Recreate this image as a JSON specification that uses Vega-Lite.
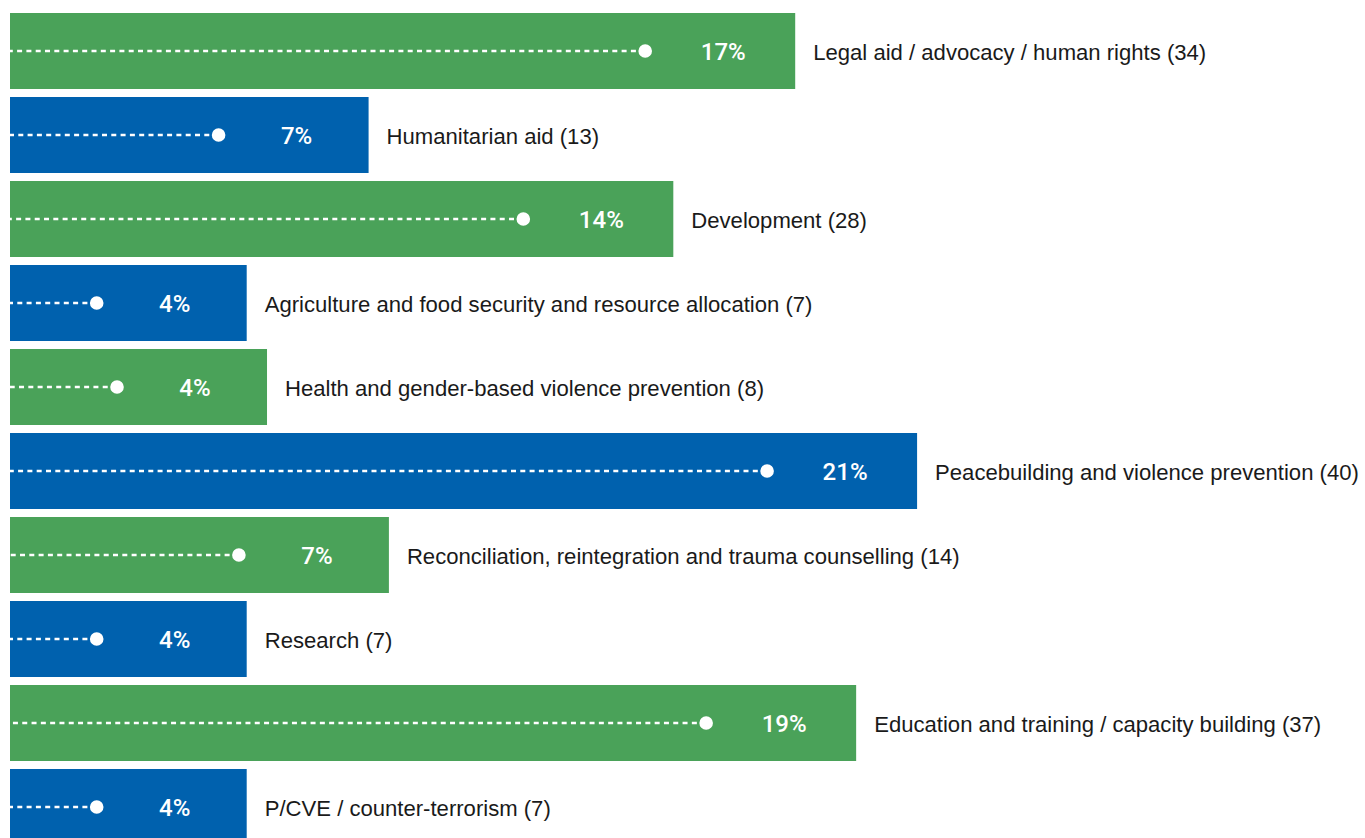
{
  "$schema": "https://vega.github.io/schema/vega-lite/v6.json",
  "width": 1365,
  "height": 838,
  "padding": 0,
  "autosize": {"type": "none"},
  "background": "white",
  "config": {"view": {"stroke": null}},
  "data": {
    "values": [
      {"category": "Legal aid / advocacy / human rights (34)", "count": 34, "pct": "17%"},
      {"category": "Humanitarian aid (13)", "count": 13, "pct": "7%"},
      {"category": "Development (28)", "count": 28, "pct": "14%"},
      {"category": "Agriculture and food security and resource allocation (7)", "count": 7, "pct": "4%"},
      {"category": "Health and gender-based violence prevention (8)", "count": 8, "pct": "4%"},
      {"category": "Peacebuilding and violence prevention (40)", "count": 40, "pct": "21%"},
      {"category": "Reconciliation, reintegration and trauma counselling (14)", "count": 14, "pct": "7%"},
      {"category": "Research (7)", "count": 7, "pct": "4%"},
      {"category": "Education and training / capacity building (37)", "count": 37, "pct": "19%"},
      {"category": "P/CVE / counter-terrorism (7)", "count": 7, "pct": "4%"}
    ]
  },
  "transform": [{"window": [{"op": "row_number", "as": "row"}]}],
  "encoding": {
    "y": {
      "field": "category",
      "type": "nominal",
      "sort": null,
      "axis": null,
      "scale": {"range": [9, 849], "paddingInner": 0.0952, "paddingOuter": 0.0476}
    }
  },
  "layer": [
    {
      "mark": {"type": "bar", "xOffset": 94.5},
      "encoding": {
        "x": {"field": "count", "type": "quantitative", "scale": {"domain": [0, 66.7], "range": [10, 1365], "nice": false, "zero": true}, "axis": null},
        "x2": {"datum": 0},
        "color": {"condition": {"test": "datum.row % 2 === 1", "value": "#4aa259"}, "value": "#0061ae"}
      }
    },
    {
      "mark": {"type": "rule", "color": "white", "strokeWidth": 2.4, "strokeDash": [5, 4.3], "xOffset": -55.5},
      "encoding": {
        "x": {"field": "count", "type": "quantitative"},
        "x2": {"datum": 0}
      }
    },
    {
      "mark": {"type": "point", "filled": true, "color": "white", "opacity": 1, "size": 185, "xOffset": -55.5},
      "encoding": {
        "x": {"field": "count", "type": "quantitative"}
      }
    },
    {
      "mark": {"type": "text", "color": "white", "fontSize": 24, "fontWeight": 500, "font": "Roboto", "align": "center", "baseline": "middle", "dx": 22.5, "dy": 1.5},
      "encoding": {
        "x": {"field": "count", "type": "quantitative"},
        "text": {"field": "pct"}
      }
    },
    {
      "mark": {"type": "text", "color": "#1a1a1a", "fontSize": 22.1, "font": "Liberation Sans", "align": "left", "baseline": "middle", "dx": 112.5, "dy": 1.5},
      "encoding": {
        "x": {"field": "count", "type": "quantitative"},
        "text": {"field": "category"}
      }
    }
  ]
}
